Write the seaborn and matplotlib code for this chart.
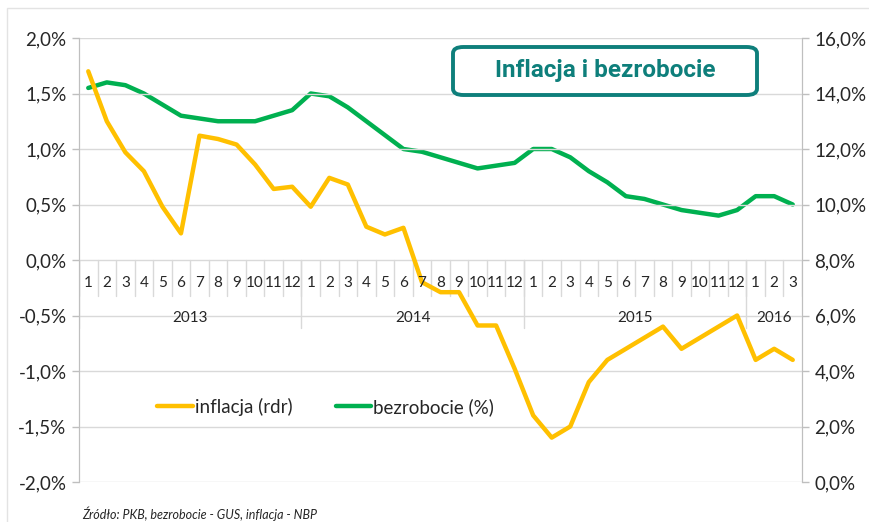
import matplotlib
matplotlib.use("Agg")
import matplotlib.pyplot as plt
import seaborn as sns
import pandas as pd
from matplotlib.ticker import FuncFormatter, MultipleLocator
from matplotlib.patches import FancyBboxPatch, Rectangle

# -----------------------------------------------------------------------------
# DANE
# -----------------------------------------------------------------------------
years = ["2013", "2014", "2015", "2016"]
months_per_year = [12, 12, 12, 3]

inflacja = [
    1.7, 1.25, 0.97, 0.8, 0.48, 0.24, 1.12, 1.09, 1.04, 0.86, 0.64, 0.66,
    0.48, 0.74, 0.68, 0.3, 0.23, 0.29, -0.2, -0.29, -0.29, -0.59, -0.59, -0.98,
    -1.4, -1.6, -1.5, -1.1, -0.9, -0.8, -0.7, -0.6, -0.8, -0.7, -0.6, -0.5,
    -0.9, -0.8, -0.9,
]
bezrobocie = [
    14.2, 14.4, 14.3, 14.0, 13.6, 13.2, 13.1, 13.0, 13.0, 13.0, 13.2, 13.4,
    14.0, 13.9, 13.5, 13.0, 12.5, 12.0, 11.9, 11.7, 11.5, 11.3, 11.4, 11.5,
    12.0, 12.0, 11.7, 11.2, 10.8, 10.3, 10.2, 10.0, 9.8, 9.7, 9.6, 9.8,
    10.3, 10.3, 10.0,
]

month_labels = [str(m + 1) for n in months_per_year for m in range(n)]
df = pd.DataFrame({
    "x": range(len(inflacja)),
    "inflacja": inflacja,
    "bezrobocie": bezrobocie,
})

ORANGE = "#FFC000"
GREEN = "#00B050"
TEAL = "#0E7F7B"
GRID = "#D9D9D9"
TXT = "#262626"

sns.set_style("white")
plt.rcParams["font.family"] = ["Lato", "DejaVu Sans"]

fig = plt.figure(figsize=(8.69, 5.22), dpi=100)
ax = fig.add_axes([79 / 869, 1 - 482 / 522, 723 / 869, 444 / 522])
ax2 = ax.twinx()

sns.lineplot(data=df, x="x", y="inflacja", color=ORANGE, linewidth=3.2,
             ax=ax, label="inflacja (rdr)", legend=False)
sns.lineplot(data=df, x="x", y="bezrobocie", color=GREEN, linewidth=3.2,
             ax=ax2, label="bezrobocie (%)", legend=False)

# osie
ax.set_xlim(-0.5, len(inflacja) - 0.5)
ax.set_ylim(-2.0, 2.0)
ax2.set_ylim(0, 16)
ax.yaxis.set_major_locator(MultipleLocator(0.5))
ax2.yaxis.set_major_locator(MultipleLocator(2))
pct = FuncFormatter(lambda v, p: f"{v:.1f}%".replace(".", ","))
ax.yaxis.set_major_formatter(pct)
ax2.yaxis.set_major_formatter(pct)
ax.set_xticks([])
ax.set_xlabel("")
ax.set_ylabel("")
ax2.set_ylabel("")

for a in (ax, ax2):
    for s in ["top", "bottom"]:
        a.spines[s].set_visible(False)
    a.spines["left"].set_color("#BFBFBF")
    a.spines["right"].set_color("#BFBFBF")
    a.tick_params(axis="y", labelsize=13.5, color="#BFBFBF", labelcolor=TXT,
                  length=5, width=1, pad=4)
ax.grid(axis="y", color=GRID, linewidth=1)
ax.set_axisbelow(True)
ax.set_zorder(ax2.get_zorder() + 1)
ax.patch.set_visible(False)

# os kategorii (miesiace + lata) na poziomie 0
for i, lab in enumerate(month_labels):
    ax.text(i, -0.21, lab, ha="center", va="center", fontsize=11, color=TXT)
    ax.plot([i - 0.5, i - 0.5], [0, -0.32], color=GRID, lw=1, zorder=0)
ax.plot([len(inflacja) - 0.5] * 2, [0, -0.32], color=GRID, lw=1, zorder=0)

start = 0
for y, n in zip(years, months_per_year):
    ax.text(start + (n - 1) / 2, -0.52, y, ha="center", va="center",
            fontsize=11, color=TXT)
    ax.plot([start - 0.5, start - 0.5], [0, -0.61], color=GRID, lw=1, zorder=0)
    start += n

# legenda
h1, l1 = ax.get_legend_handles_labels()
h2, l2 = ax2.get_legend_handles_labels()
ax.legend(h1 + h2, l1 + l2, ncol=2, frameon=False, loc="center left",
          bbox_to_anchor=(0.085, 0.169), fontsize=13.5, handlelength=1.9,
          handletextpad=0.1, columnspacing=2.3, labelcolor=TXT)

# tytul w ramce
box = FancyBboxPatch((453 / 869, 1 - 95 / 522), 304 / 869, 48 / 522,
                     boxstyle="round,pad=0,rounding_size=0.012",
                     transform=fig.transFigure, facecolor="white",
                     edgecolor=TEAL, linewidth=2.8, zorder=5)
fig.patches.append(box)
fig.text(605 / 869, 1 - 71 / 522, "Inflacja i bezrobocie", ha="center",
         va="center", fontsize=17.5, fontweight="bold", color=TEAL,
         family=["Roboto", "DejaVu Sans"], zorder=6)

# ramka wykresu i zrodlo
fig.patches.append(Rectangle((7 / 869, -0.1), 1.1, 1 - 8 / 522 + 0.1,
                             transform=fig.transFigure, fill=False,
                             edgecolor="#E3E3E3", linewidth=1))
fig.text(82 / 869, 1 - 519 / 522, "Źródło: PKB, bezrobocie - GUS, inflacja - NBP",
         ha="left", va="baseline", fontsize=9, style="italic", color=TXT)

fig.savefig("out.png", dpi=100)
